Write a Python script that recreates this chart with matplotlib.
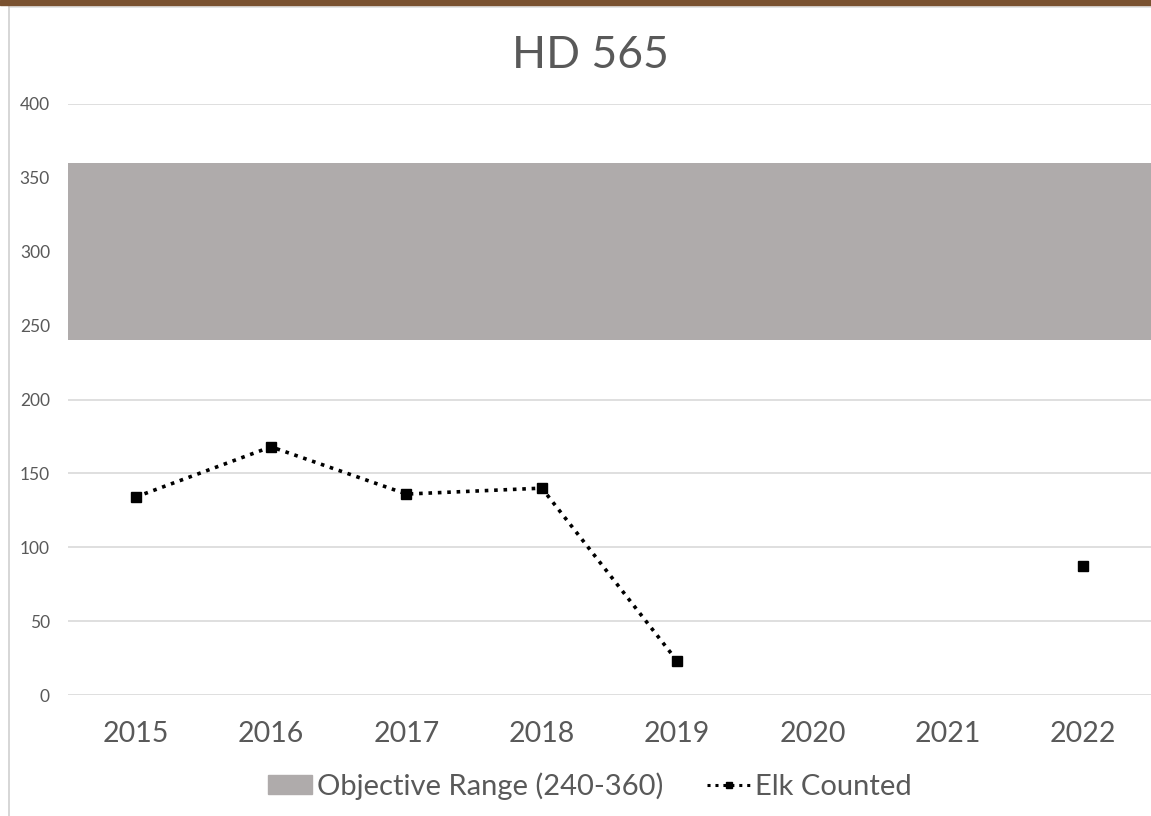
import numpy as np
import matplotlib
import matplotlib.pyplot as plt
from matplotlib.patches import Rectangle
from matplotlib.lines import Line2D

matplotlib.use('Agg')

years = ['2015', '2016', '2017', '2018', '2019', '2020', '2021', '2022']
elk_counted = [134, 168, 136, 140, 23, np.nan, np.nan, 87]
objective_low = 240
objective_high = 360
y_ticks = [0, 50, 100, 150, 200, 250, 300, 350, 400]

plt.rcParams['font.family'] = ['Lato', 'DejaVu Sans']

fig = plt.figure(figsize=(11.51, 8.16), dpi=100)
ax = fig.add_axes([68 / 1151, 1 - 695 / 816, 1 - 68 / 1151, (695 - 104) / 816])

x = np.arange(len(years))
ax.axhspan(objective_low, objective_high, color='#AFABAB', zorder=1, lw=0)
ax.plot(x, elk_counted, linestyle=(0, (1, 1.6)), color='black', linewidth=2.6,
        marker='s', markersize=6.5, zorder=3)

ax.set_xlim(-0.5, len(years) - 0.5)
ax.set_ylim(0, 400)
ax.set_yticks(y_ticks)
ax.set_xticks(x)
ax.set_xticklabels(years, fontsize=20.5, color='#595959')
ax.tick_params(axis='y', labelsize=12.5, labelcolor='#595959', length=0, pad=13)
ax.tick_params(axis='x', length=0, pad=19)
ax.grid(axis='y', color='#D9D9D9', linewidth=1.2, zorder=0)
ax.set_axisbelow(True)
for s in ax.spines.values():
    s.set_visible(False)

fig.text(590 / 1151, 1 - 55 / 816, 'HD 565', ha='center', va='center', fontsize=32, color='#595959')

handles = [Rectangle((0, 0), 1, 1, color='#AFABAB'),
           Line2D([0], [0], linestyle=(0, (1, 1.6)), color='black', linewidth=2.2,
                  marker='s', markersize=5)]
fig.legend(handles, ['Objective Range (240-360)', 'Elk Counted'], loc='center',
           bbox_to_anchor=(590 / 1151, 1 - 786 / 816), ncol=2, frameon=False, fontsize=21,
           labelcolor='#595959', handlelength=1.5, handleheight=0.6, handletextpad=0.15,
           columnspacing=1.5)

# border decorations
fig.patches.append(Rectangle((0, 1 - 5 / 816), 1, 5 / 816, transform=fig.transFigure,
                             color='#7A5230', zorder=10))
fig.lines.append(Line2D([9 / 1151, 1], [1 - 7 / 816, 1 - 7 / 816], transform=fig.transFigure,
                        color='#E0E0E0', linewidth=1.2))
fig.lines.append(Line2D([9 / 1151, 9 / 1151], [0, 1 - 7 / 816], transform=fig.transFigure,
                        color='#D0D0D0', linewidth=1.2))

plt.savefig('out.png', dpi=100)
plt.close(fig)
